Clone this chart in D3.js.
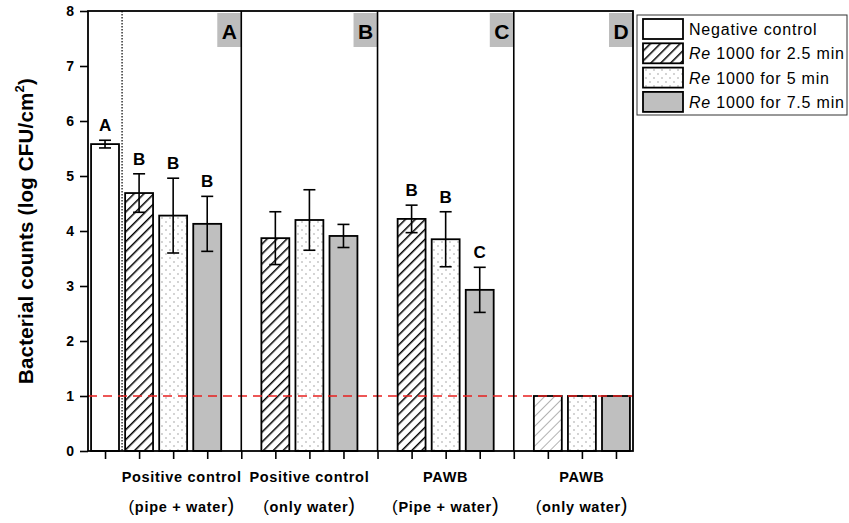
<!DOCTYPE html>
<html>
<head>
<meta charset="utf-8">
<script src="https://cdn.jsdelivr.net/npm/d3@7"></script>
<style>
  body { margin: 0; background: #fff; }
  text { font-family: Arial, "Liberation Sans", sans-serif; }
</style>
</head>
<body>
<div id="chart"></div>
<script>
// treatments shown in the legend
const treatments = ["Negative control", "1000 for 2.5 min", "1000 for 5 min", "1000 for 7.5 min"];

// bar slot, treatment index, mean, sd, significance letter
const slots     = [1, 2, 3, 4, 6, 7, 8, 10, 11, 12, 14, 15, 16];
const treatIdx  = [0, 1, 2, 3, 1, 2, 3, 1, 2, 3, 1, 2, 3];
const means     = [5.58, 4.69, 4.28, 4.13, 3.87, 4.20, 3.91, 4.22, 3.85, 2.93, 1, 1, 1];
const errors    = [0.07, 0.35, 0.68, 0.50, 0.48, 0.55, 0.21, 0.25, 0.50, 0.41, 0, 0, 0];
const letters   = ["A", "B", "B", "B", "", "", "", "B", "B", "C", "", "", ""];

// panels
const panelNames   = ["A", "B", "C", "D"];
const panelEnds    = [5, 9, 13, 16.5];
const panelLine1   = ["Positive control", "Positive control", "PAWB", "PAWB"];
const panelLine2   = ["pipe + water", "only water", "Pipe + water", "only water"];
const panelLabelAt = [3.25, 7, 11, 15];

const yTicks = [0, 1, 2, 3, 4, 5, 6, 7, 8];
const detectionLimit = 1;

const width = 849, height = 523;
const plotL = 88, plotR = 633, plotT = 11, plotB = 451;

const svg = d3.select("#chart").append("svg")
    .attr("width", width)
    .attr("height", height);

const defs = svg.append("defs");

const hatch = defs.append("pattern")
    .attr("id", "hatch")
    .attr("patternUnits", "userSpaceOnUse")
    .attr("width", 7).attr("height", 7)
    .attr("patternTransform", "rotate(45)");
hatch.append("rect").attr("width", 7).attr("height", 7).attr("fill", "#fff");
hatch.append("line").attr("x1", 0).attr("y1", 0).attr("x2", 0).attr("y2", 7)
    .attr("stroke", "#000").attr("stroke-width", 3);

const hatchLight = defs.append("pattern")
    .attr("id", "hatchLight")
    .attr("patternUnits", "userSpaceOnUse")
    .attr("width", 7).attr("height", 7)
    .attr("patternTransform", "rotate(45)");
hatchLight.append("rect").attr("width", 7).attr("height", 7).attr("fill", "#fff");
hatchLight.append("line").attr("x1", 0).attr("y1", 0).attr("x2", 0).attr("y2", 7)
    .attr("stroke", "#666").attr("stroke-width", 1);

const dots = defs.append("pattern")
    .attr("id", "dots")
    .attr("patternUnits", "userSpaceOnUse")
    .attr("width", 8).attr("height", 8);
dots.append("rect").attr("width", 8).attr("height", 8).attr("fill", "#fff");
dots.append("circle").attr("cx", 2).attr("cy", 2).attr("r", 0.7).attr("fill", "#888");
dots.append("circle").attr("cx", 6).attr("cy", 6).attr("r", 0.7).attr("fill", "#888");

const fills = ["#fff", "url(#hatch)", "url(#dots)", "#bfbfbf"];

const x = d3.scaleLinear().domain([0.5, 16.5]).range([plotL, plotR]);
const y = d3.scaleLinear().domain([0, 8]).range([plotB, plotT]);
const barW = x(1.82) - x(1);

// panel letter boxes
panelNames.forEach((p, i) => {
    const xr = x(panelEnds[i]);
    svg.append("rect")
        .attr("x", xr - 24).attr("y", plotT + 2)
        .attr("width", 24).attr("height", 34)
        .attr("fill", "#bdbdbd");
    svg.append("text")
        .attr("x", xr - 12).attr("y", plotT + 28)
        .attr("text-anchor", "middle")
        .attr("font-size", 21).attr("font-weight", "bold")
        .text(p);
});

// bars
const bars = slots.map((s, i) => ({ s, t: treatIdx[i], m: means[i], e: errors[i], l: letters[i] }));

svg.selectAll(".bar")
    .data(bars)
    .enter()
    .append("rect")
    .attr("class", "bar")
    .attr("x", d => x(d.s) - barW / 2)
    .attr("y", d => y(d.m))
    .attr("width", barW)
    .attr("height", d => y(0) - y(d.m))
    .attr("fill", d => (d.s > 13 && d.t === 1) ? "url(#hatchLight)" : fills[d.t])
    .attr("stroke", "#000")
    .attr("stroke-width", 1.8);

// error bars
const withErr = bars.filter(d => d.e > 0);
const eb = svg.selectAll(".err").data(withErr).enter().append("g")
    .attr("stroke", "#000").attr("stroke-width", 1.6);
eb.append("line")
    .attr("x1", d => x(d.s)).attr("x2", d => x(d.s))
    .attr("y1", d => y(d.m + d.e)).attr("y2", d => y(d.m - d.e));
eb.append("line")
    .attr("x1", d => x(d.s) - 6).attr("x2", d => x(d.s) + 6)
    .attr("y1", d => y(d.m + d.e)).attr("y2", d => y(d.m + d.e));
eb.append("line")
    .attr("x1", d => x(d.s) - 6).attr("x2", d => x(d.s) + 6)
    .attr("y1", d => y(d.m - d.e)).attr("y2", d => y(d.m - d.e));

// significance letters
svg.selectAll(".sig")
    .data(bars.filter(d => d.l))
    .enter()
    .append("text")
    .attr("x", d => x(d.s))
    .attr("y", d => y(d.m + d.e) - 9)
    .attr("text-anchor", "middle")
    .attr("font-size", 17).attr("font-weight", "bold")
    .text(d => d.l);

// detection limit
svg.append("line")
    .attr("x1", plotL).attr("x2", plotR)
    .attr("y1", y(detectionLimit)).attr("y2", y(detectionLimit))
    .attr("stroke", "#e8201f").attr("stroke-width", 1.6)
    .attr("stroke-dasharray", "9,6");

// panel separators
svg.append("line")
    .attr("x1", x(1.5)).attr("x2", x(1.5))
    .attr("y1", plotT).attr("y2", plotB)
    .attr("stroke", "#000").attr("stroke-width", 1.2)
    .attr("stroke-dasharray", "1.5,1.5");
panelEnds.slice(0, 3).forEach(p => {
    svg.append("line")
        .attr("x1", x(p)).attr("x2", x(p))
        .attr("y1", plotT).attr("y2", plotB)
        .attr("stroke", "#000").attr("stroke-width", 1.6);
});

// frame
svg.append("rect")
    .attr("x", plotL).attr("y", plotT)
    .attr("width", plotR - plotL).attr("height", plotB - plotT)
    .attr("fill", "none").attr("stroke", "#000").attr("stroke-width", 1.8);

// axes
const yAxis = svg.append("g")
    .attr("transform", `translate(${plotL},0)`)
    .call(d3.axisLeft(y).tickValues(yTicks).tickSize(8).tickPadding(6).tickFormat(d3.format("d")));
yAxis.select(".domain").remove();
yAxis.selectAll("line").attr("stroke-width", 1.6);
yAxis.selectAll("text").attr("font-size", 14).attr("font-weight", "bold").attr("fill", "#000");

const xAxis = svg.append("g")
    .attr("transform", `translate(0,${plotB})`)
    .call(d3.axisBottom(x).tickValues(d3.range(1, 17)).tickSize(8).tickFormat(""));
xAxis.select(".domain").remove();
xAxis.selectAll("line").attr("stroke-width", 1.6);

// category labels
panelLine1.forEach((t, i) => {
    svg.append("text")
        .attr("x", x(panelLabelAt[i])).attr("y", 482)
        .attr("text-anchor", "middle")
        .attr("font-size", 14.5).attr("font-weight", "bold")
        .attr("letter-spacing", 0.7)
        .text(t);
    const l2 = svg.append("text")
        .attr("x", x(panelLabelAt[i])).attr("y", 512)
        .attr("text-anchor", "middle")
        .attr("font-size", 14.5).attr("font-weight", "bold")
        .attr("letter-spacing", 0.7);
    l2.append("tspan").attr("font-size", 17).attr("font-weight", "normal").text("(");
    l2.append("tspan").text(panelLine2[i]);
    l2.append("tspan").attr("font-size", 20).attr("font-weight", "normal").text(")");
});

// y label
const yl = svg.append("text")
    .attr("transform", `translate(33,${(plotT + plotB) / 2}) rotate(-90)`)
    .attr("text-anchor", "middle")
    .attr("font-size", 20.5).attr("font-weight", "bold")
    .attr("letter-spacing", 0.2);
yl.append("tspan").text("Bacterial counts (log CFU/cm");
yl.append("tspan").attr("font-size", 13).attr("dy", -9).text("2");
yl.append("tspan").attr("dy", 9).text(")");

// legend
const lg = svg.append("g");
lg.append("rect")
    .attr("x", 637).attr("y", 15)
    .attr("width", 210).attr("height", 100)
    .attr("fill", "#fff").attr("stroke", "#333").attr("stroke-width", 1);
treatments.forEach((t, i) => {
    const yy = 19 + i * 24.3;
    lg.append("rect")
        .attr("x", 643).attr("y", yy)
        .attr("width", 40).attr("height", 20)
        .attr("fill", fills[i]).attr("stroke", "#000").attr("stroke-width", 1.8);
    const tx = lg.append("text")
        .attr("x", 689).attr("y", yy + 16)
        .attr("font-size", 16)
        .attr("letter-spacing", 0.8);
    if (i === 0) {
        tx.text(t);
    } else {
        tx.append("tspan").attr("font-style", "italic").text("Re");
        tx.append("tspan").text(" " + t);
    }
});
</script>
</body>
</html>
